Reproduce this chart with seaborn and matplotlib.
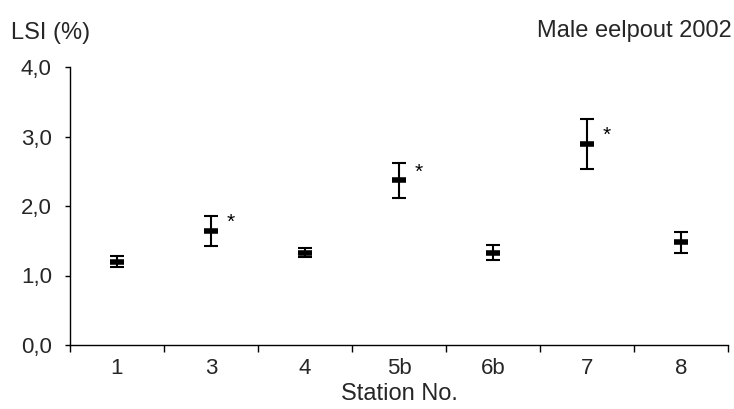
import numpy as np
import pandas as pd
import matplotlib
matplotlib.use('Agg')
import matplotlib.pyplot as plt
import seaborn as sns
from matplotlib.ticker import FuncFormatter, FixedLocator

# Data
stations = ['1', '3', '4', '5b', '6b', '7', '8']
lsi_mean = [1.20, 1.64, 1.33, 2.37, 1.33, 2.89, 1.48]
lsi_err = [0.08, 0.21, 0.07, 0.25, 0.11, 0.36, 0.15]
significant = [False, True, False, True, False, True, False]

df = pd.DataFrame({'Station': stations, 'LSI': lsi_mean, 'err': lsi_err})

sns.set_style('ticks')
plt.rcParams['font.family'] = ['Liberation Sans', 'DejaVu Sans']

fig = plt.figure(figsize=(7.34, 4.09), dpi=100)
ax = fig.add_axes([70 / 734, 1 - 345 / 409, 658 / 734, 278 / 409])

# error bars first, then the mean dash on top
xpos = np.arange(len(stations))
ax.errorbar(xpos, df['LSI'], yerr=df['err'], fmt='none', ecolor='black',
            elinewidth=1.5, capsize=5.3, capthick=1.5, zorder=2)
sns.scatterplot(data=df, x='Station', y='LSI', marker='_', s=115,
                color='black', linewidth=4, ax=ax, zorder=3, legend=False)

# asterisks for significant stations
for i, sig in enumerate(significant):
    if sig:
        ax.text(xpos[i] + 0.17, lsi_mean[i] + 0.12, '*',
                fontsize=15, ha='left', va='center', color='black')

ax.set_xlim(-0.5, len(stations) - 0.5)
ax.set_ylim(0, 4)
ax.set_yticks([0, 1, 2, 3, 4])
ax.yaxis.set_major_formatter(FuncFormatter(lambda v, p: f'{v:.1f}'.replace('.', ',')))

# labels centred, tick marks on category boundaries
ax.set_xticks(xpos)
ax.set_xticklabels(stations)
ax.xaxis.set_minor_locator(FixedLocator(np.arange(-0.5, len(stations), 1.0)))
ax.tick_params(axis='x', which='major', length=0, pad=9, labelsize=16)
ax.tick_params(axis='x', which='minor', length=5, width=1, color='black')
ax.tick_params(axis='y', length=3.6, width=1, color='black', labelsize=16, pad=9.5)

for side in ['top', 'right']:
    ax.spines[side].set_visible(False)
for side in ['left', 'bottom']:
    ax.spines[side].set_color('black')
    ax.spines[side].set_linewidth(1)

ax.set_xlabel('Station No.', fontsize=17, labelpad=3)
ax.set_ylabel('')

fig.text(11 / 734, 1 - 38.5 / 409, 'LSI (%)', fontsize=17, ha='left', va='baseline')
fig.text(732 / 734, 1 - 37.5 / 409, 'Male eelpout 2002', fontsize=17, ha='right', va='baseline')

fig.savefig('out.png', dpi=100)
